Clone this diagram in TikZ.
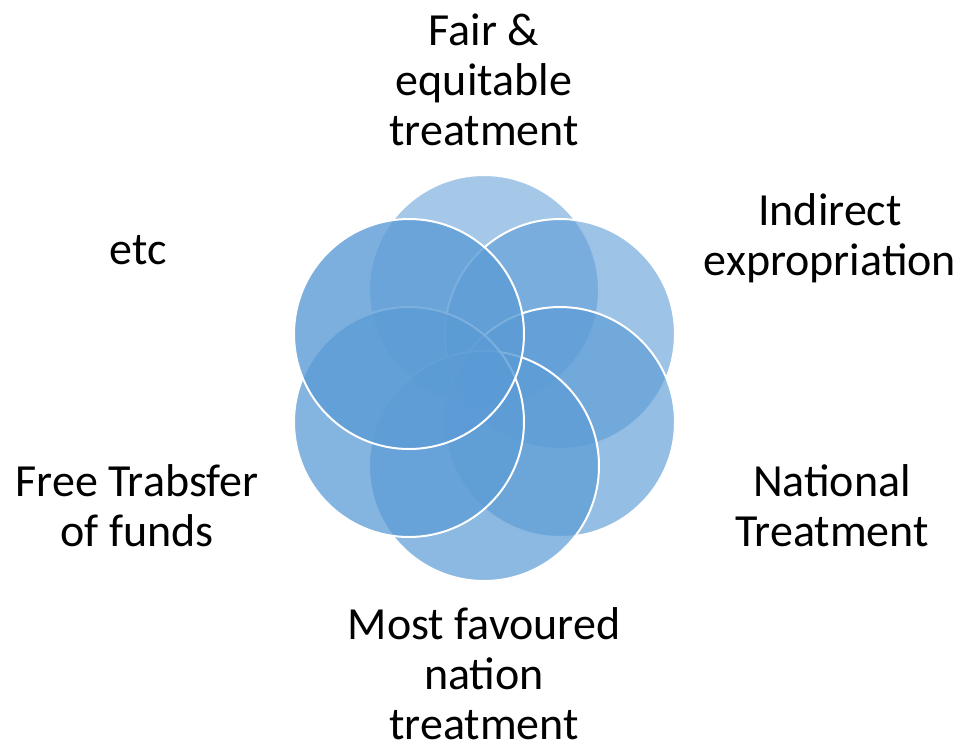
\documentclass[tikz,border=0pt]{standalone}
\usepackage{fontspec}
\setmainfont{Carlito}
\usepackage{xcolor}
\definecolor{petalblue}{RGB}{91,155,213}

\begin{document}
\begin{tikzpicture}[x=0.5pt,y=0.5pt,yscale=-1,xscale=1]
    \tikzset{petal/.style={draw=white, line width=1pt, fill=petalblue},
             lbl/.style={align=center, inner sep=0.75pt, font=\fontsize{23}{25}\selectfont}}
    \useasboundingbox (0,0) rectangle (963,746);

    %Shape: Circles, drawn top first, then clockwise
    \foreach \cx/\cy/\op in {484/290/0.55, 560/334/0.6, 560/422/0.65, 484/466/0.7, 409/422/0.75, 409/334/0.8}
      \draw [petal, fill opacity=\op] (\cx,\cy) circle (115);

    % Text Node
    \node [lbl] (fair) at (484,80) {Fair \&\\equitable\\treatment};
    % Text Node
    \node [lbl] (indirect) at (830,238) {Indirect\\expropriation};
    % Text Node
    \node [lbl] (national) at (832,506) {National\\Treatment};
    % Text Node
    \node [lbl] (mfn) at (484,674) {Most favoured\\nation\\treatment};
    % Text Node
    \node [lbl] (funds) at (137,506) {Free Trabsfer\\of funds};
    % Text Node
    \node [lbl] (etc) at (138,250) {etc};

\end{tikzpicture}
\end{document}
